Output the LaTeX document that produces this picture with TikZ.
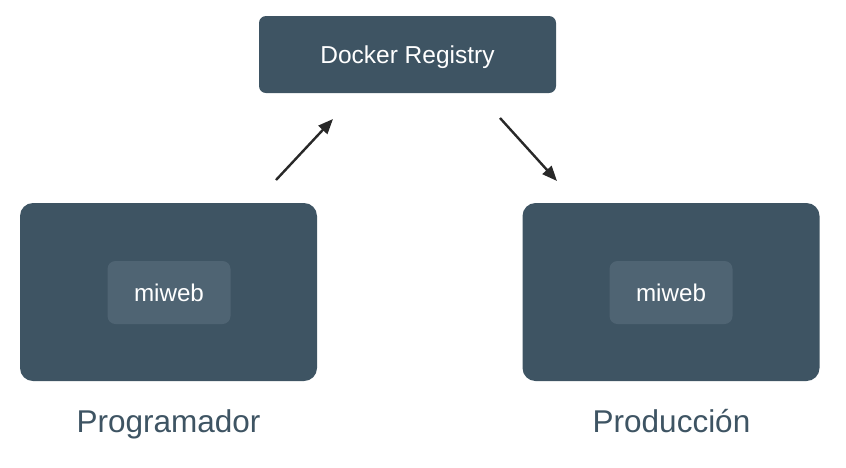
\documentclass[tikz,border=0pt]{standalone}
\usepackage{fontspec}
\setmainfont{Liberation Sans}
\usetikzlibrary{arrows.meta}
\definecolor{boxdark}{RGB}{62,84,99}
\definecolor{boxinner}{RGB}{79,100,115}
\definecolor{labeltext}{RGB}{62,84,99}
\definecolor{arrowc}{RGB}{40,40,40}
\tikzset{
  hostbox/.style={fill=boxdark, draw=none, rounded corners=13pt, minimum width=297pt, minimum height=178pt, inner sep=0pt},
  regbox/.style={fill=boxdark, draw=none, rounded corners=7pt, minimum width=297pt, minimum height=77pt, inner sep=0pt,
    text=white, font=\fontsize{24.5pt}{28pt}\selectfont, text height=17.5pt, text depth=0pt},
  appbox/.style={fill=boxinner, draw=none, rounded corners=8pt, minimum width=123pt, minimum height=63pt, inner sep=0pt,
    text=white, font=\fontsize{24.2pt}{28pt}\selectfont, text height=17.3pt, text depth=0pt},
  caption/.style={text=labeltext, font=\fontsize{31.5pt}{36pt}\selectfont, anchor=base, inner sep=0pt},
  flow/.style={draw=arrowc, line width=2.4pt, -{Triangle[length=15pt, width=12pt]}}
}
\begin{document}
\begin{tikzpicture}[x=1pt, y=-1pt]
\useasboundingbox (0,0) rectangle (846,467);
\node[regbox] (reg) at (407.5,54.5) {Docker Registry};
\node[hostbox] (prog) at (168.5,292) {};
\node[hostbox] (prod) at (671,292) {};
\node[appbox] (app1) at (169,292.5) {miweb};
\node[appbox] (app2) at (671,292.5) {miweb};
\node[caption] (cap1) at (168.5,432) {Programador};
\node[caption] (cap2) at (671.5,432) {Producción};
\coordinate (a1s) at (276,180);
\coordinate (a1e) at (333,119);
\coordinate (a2s) at (500,118);
\coordinate (a2e) at (557,181);
\draw[flow] (a1s) -- (a1e);
\draw[flow] (a2s) -- (a2e);
\end{tikzpicture}
\end{document}
